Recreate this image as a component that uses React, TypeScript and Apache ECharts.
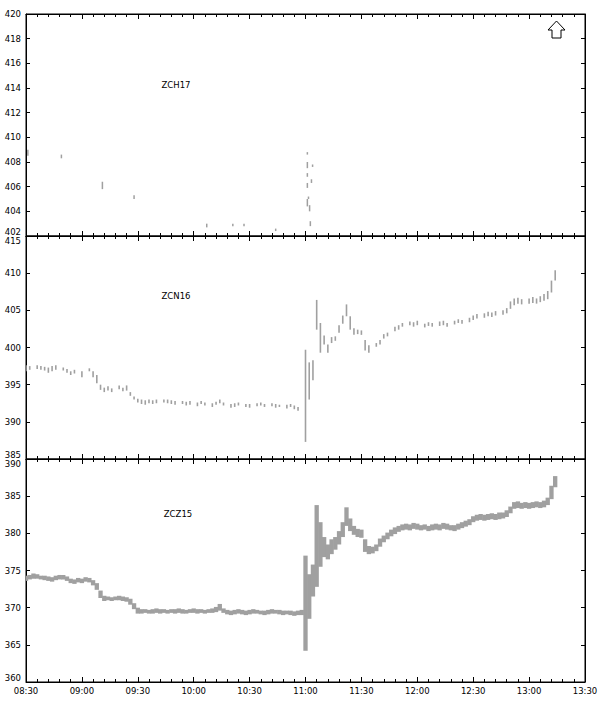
import React, { useEffect, useRef } from "react";
import * as echarts from "echarts";

// time axis in minutes since midnight
const X_MIN = 510; // 08:30
const X_MAX = 810; // 13:30
const X_INTERVAL = 30;

// ZCZ15 / ZCN16 bars: one bar every STEP minutes starting at START
const START = 510;
const STEP = 2;

const ZCZ15_LOW = [
  373.6, 373.8, 373.9, 373.9, 373.8, 373.7, 373.6, 373.5, 373.7, 373.8,
  373.8, 373.6, 373.3, 373.2, 373.4, 373.3, 373.5, 373.4, 373.0, 372.4,
  371.3, 370.9, 371.0, 370.9, 371.0, 371.0, 370.9, 370.8, 370.4, 369.8,
  369.2, 369.2, 369.3, 369.2, 369.2, 369.3, 369.2, 369.3, 369.2, 369.3,
  369.2, 369.3, 369.2, 369.2, 369.3, 369.3, 369.2, 369.3, 369.2, 369.3,
  369.3, 369.4, 369.6, 369.3, 369.1, 369.0, 369.1, 369.2, 369.1, 369.0,
  369.1, 369.2, 369.2, 369.1, 369.0, 369.1, 369.2, 369.2, 369.1, 369.0,
  369.1, 369.0, 368.9, 369.0, 369.0, 364.2, 368.5, 371.5, 372.8, 375.5,
  376.8, 376.5, 377.2, 377.8, 378.5, 379.5, 381.0, 380.3, 379.8, 379.5,
  379.4, 377.5, 377.2, 377.3, 377.6, 378.2, 378.8, 379.2, 379.6, 379.9,
  380.2, 380.4, 380.5, 380.4, 380.6, 380.5, 380.4, 380.5, 380.3, 380.4,
  380.5, 380.4, 380.6, 380.5, 380.4, 380.3, 380.5, 380.7, 380.9, 381.1,
  381.5, 381.7, 381.8, 381.7, 381.8, 381.9, 381.8, 381.9, 382.0, 382.2,
  382.7, 383.3, 383.4, 383.3, 383.4, 383.3, 383.4, 383.5, 383.4, 383.5,
  383.8, 384.6, 386.2,
];
const ZCZ15_HIGH = [
  374.3, 374.4, 374.6, 374.5, 374.3, 374.3, 374.2, 374.1, 374.3, 374.4,
  374.4, 374.2, 373.9, 373.8, 374.0, 373.9, 374.1, 374.0, 373.7, 373.3,
  372.3, 371.6, 371.5, 371.4, 371.5, 371.6, 371.5, 371.4, 371.2, 370.6,
  370.0, 369.8, 369.8, 369.7, 369.8, 369.9, 369.8, 369.8, 369.7, 369.8,
  369.8, 369.9, 369.8, 369.7, 369.8, 369.9, 369.8, 369.8, 369.7, 369.8,
  369.9, 370.1, 370.5, 369.9, 369.7, 369.6, 369.7, 369.8, 369.7, 369.6,
  369.7, 369.8, 369.7, 369.6, 369.6, 369.7, 369.8, 369.7, 369.7, 369.6,
  369.6, 369.6, 369.5, 369.6, 369.7, 377.0, 374.5, 375.8, 383.8, 381.5,
  379.5, 378.5, 379.2, 379.5, 380.3, 381.5, 383.5, 382.0, 381.0, 380.6,
  380.5, 379.2, 378.3, 378.2, 378.5, 379.3, 379.7, 380.1, 380.5, 380.8,
  381.0, 381.2, 381.3, 381.2, 381.4, 381.3, 381.1, 381.2, 381.0, 381.2,
  381.3, 381.2, 381.4, 381.3, 381.1, 381.1, 381.3, 381.5, 381.7, 381.9,
  382.3, 382.5, 382.6, 382.5, 382.6, 382.7, 382.6, 382.8, 382.8, 383.1,
  383.6, 384.2, 384.3, 384.1, 384.2, 384.1, 384.2, 384.3, 384.2, 384.4,
  384.8, 386.4, 387.7,
];

const ZCN16_LOW = [
  396.8, 397.0, null, 397.1, 397.0, 396.9, 396.6, 396.8, 397.0, null,
  396.9, 396.6, 396.3, 396.5, null, 396.0, null, 396.8, 396.0, 395.2,
  394.3, 394.0, 394.2, 394.0, null, 394.4, 394.1, 394.2, 393.5, 393.0,
  392.6, 392.4, 392.3, 392.5, 392.4, 392.5, null, 392.6, 392.5, 392.4,
  392.3, null, 392.4, 392.2, 392.3, null, 392.1, 392.4, 392.2, null,
  392.0, 392.3, 392.5, 392.2, null, 391.9, 392.0, 392.2, null, 392.0,
  391.9, null, 392.1, 392.2, 392.0, null, 392.1, 391.9, 392.0, null,
  391.8, 392.0, 391.7, 391.5, null, 387.3, 393.0, 395.6, 402.4, 399.3,
  400.4, 399.3, 400.6, 400.9, 402.0, 403.2, 404.2, 402.4, 401.7, 401.8,
  401.7, 399.6, 399.3, null, 400.1, 400.4, 401.2, 401.5, null, 402.2,
  402.4, 402.8, null, 403.0, 402.8, 403.0, null, 402.7, 402.9, 402.8,
  null, 402.9, 403.0, 402.8, null, 403.1, 403.3, 403.2, null, 403.4,
  403.7, 403.9, null, 404.0, 404.2, 404.1, 404.3, null, 404.4, 404.6,
  405.2, 405.7, 405.9, 405.8, null, 405.9, 406.0, 405.9, 406.1, 406.3,
  406.5, 407.4, 409.0,
];
const ZCN16_HIGH = [
  397.6, 397.5, null, 397.6, 397.5, 397.4, 397.3, 397.5, 397.6, null,
  397.3, 397.1, 396.8, 397.0, null, 396.8, null, 397.2, 396.8, 396.3,
  395.0, 394.6, 394.8, 394.5, null, 394.9, 394.6, 394.9, 394.0, 393.4,
  393.1, 393.0, 392.9, 393.0, 392.9, 393.0, null, 393.0, 393.0, 392.9,
  392.8, null, 392.8, 392.7, 392.8, null, 392.6, 392.8, 392.6, null,
  392.5, 392.7, 393.0, 392.6, null, 392.4, 392.5, 392.6, null, 392.4,
  392.4, null, 392.5, 392.6, 392.4, null, 392.5, 392.4, 392.3, null,
  392.3, 392.4, 392.2, 392.0, null, 399.7, 398.0, 398.3, 406.4, 403.3,
  401.6, 400.4, 401.4, 401.5, 403.0, 404.3, 405.8, 404.2, 402.6, 402.4,
  402.3, 401.0, 400.3, null, 400.6, 401.0, 401.8, 402.0, null, 402.8,
  403.0, 403.3, null, 403.5, 403.4, 403.6, null, 403.2, 403.4, 403.3,
  null, 403.5, 403.6, 403.3, null, 403.6, 403.8, 403.7, null, 404.0,
  404.3, 404.5, null, 404.6, 404.8, 404.7, 404.9, null, 405.0, 405.3,
  406.2, 406.6, 406.7, 406.5, null, 406.6, 406.8, 406.6, 406.9, 407.2,
  407.6, 409.0, 410.4,
];

// ZCH17: sparse trades
const ZCH17_TIME = [511, 529, 551, 568, 607, 621, 627, 644, 661, 661, 661, 661, 661, 661.6, 662.2, 662.6, 663.2, 663.8];
const ZCH17_LOW = [408.5, 408.3, 405.8, 405.0, 402.7, 402.8, 402.8, 402.4, 408.6, 407.5, 406.8, 405.9, 404.4, 405.0, 404.0, 402.8, 406.3, 407.6];
const ZCH17_HIGH = [409.0, 408.6, 406.4, 405.3, 403.0, 403.0, 403.0, 402.6, 408.8, 408.0, 407.1, 406.3, 405.0, 405.2, 404.5, 403.2, 406.6, 407.8];

const PANEL_NAMES = ["ZCH17", "ZCN16", "ZCZ15"];
const Y_MIN = [402, 385, 360];
const Y_MAX = [420, 415, 390];
const Y_INTERVAL = [2, 5, 5];

const BAR_COLOR = "#a0a0a0";
const FONT = "DejaVu Sans";

function fmtTime(v: number): string {
  const h = Math.floor(v / 60);
  const m = Math.round(v - h * 60);
  return (h < 10 ? "0" : "") + h + ":" + (m < 10 ? "0" : "") + m;
}

function buildBars(low: (number | null)[], high: (number | null)[]) {
  const out: number[][] = [];
  for (let i = 0; i < low.length; i++) {
    const lo = low[i];
    const hi = high[i];
    if (lo == null || hi == null) continue;
    out.push([START + i * STEP, lo, hi]);
  }
  return out;
}

export default function App() {
  const ref = useRef<HTMLDivElement>(null);
  useEffect(() => {
    if (!ref.current) return;
    const chart = echarts.init(ref.current, undefined, { renderer: "svg" });

    const grids = [
      { left: 26, right: 16, top: 14, height: 222 },
      { left: 26, right: 16, top: 236, height: 223 },
      { left: 26, right: 16, top: 459, height: 223 },
    ].map((g) => ({ ...g, show: true, borderColor: "#000", borderWidth: 1, containLabel: false }));

    const tickStyle = { color: "#000", width: 1 };
    const xAxes: any[] = [];
    const yAxes: any[] = [];
    for (let i = 0; i < 3; i++) {
      ["bottom", "top"].forEach((pos) => {
        xAxes.push({
          gridIndex: i,
          type: "value",
          position: pos,
          min: X_MIN,
          max: X_MAX,
          interval: X_INTERVAL,
          axisLine: { show: true, onZero: false, lineStyle: tickStyle },
          axisTick: { show: true, inside: true, length: 5, lineStyle: tickStyle },
          minorTick: { show: true, splitNumber: 5, length: 3, lineStyle: tickStyle },
          splitLine: { show: false },
          minorSplitLine: { show: false },
          axisLabel: {
            show: i === 2 && pos === "bottom",
            formatter: (v: number) => fmtTime(v),
            fontFamily: FONT,
            fontSize: 8.5,
            color: "#000",
            margin: 4,
          },
        });
      });
      ["left", "right"].forEach((pos) => {
        yAxes.push({
          gridIndex: i,
          type: "value",
          position: pos,
          min: Y_MIN[i],
          max: Y_MAX[i],
          interval: Y_INTERVAL[i],
          axisLine: { show: true, onZero: false, lineStyle: tickStyle },
          axisTick: { show: true, inside: true, length: 4, lineStyle: tickStyle },
          splitLine: { show: false },
          axisLabel: {
            show: pos === "left",
            fontFamily: FONT,
            fontSize: 8.5,
            color: "#000",
            margin: 5,
            verticalAlignMinLabel: "bottom",
            verticalAlignMaxLabel: i === 0 ? "middle" : "top",
          },
        });
      });
    }

    const makeRender = (widthMode: "band" | number) => (params: any, api: any) => {
      const x = api.value(0);
      const lo = api.value(1);
      const hi = api.value(2);
      const pHi = api.coord([x, hi]);
      const pLo = api.coord([x, lo]);
      const w = widthMode === "band" ? api.size([STEP, 0])[0] + 0.6 : widthMode;
      return {
        type: "rect",
        shape: { x: pHi[0] - w / 2, y: pHi[1], width: w, height: Math.max(pLo[1] - pHi[1], 1) },
        style: { fill: BAR_COLOR },
      };
    };

    const topData = ZCH17_TIME.map((t, i) => [t, ZCH17_LOW[i], ZCH17_HIGH[i]]);

    const series: any[] = [
      {
        type: "custom",
        name: PANEL_NAMES[0],
        xAxisIndex: 0,
        yAxisIndex: 0,
        renderItem: makeRender(1.5),
        encode: { x: 0, y: [1, 2] },
        data: topData,
        clip: true,
      },
      {
        type: "custom",
        name: PANEL_NAMES[1],
        xAxisIndex: 2,
        yAxisIndex: 2,
        renderItem: makeRender(1.6),
        encode: { x: 0, y: [1, 2] },
        data: buildBars(ZCN16_LOW, ZCN16_HIGH),
        clip: true,
      },
      {
        type: "custom",
        name: PANEL_NAMES[2],
        xAxisIndex: 4,
        yAxisIndex: 4,
        renderItem: makeRender("band"),
        encode: { x: 0, y: [1, 2] },
        data: buildBars(ZCZ15_LOW, ZCZ15_HIGH),
        clip: true,
      },
    ];

    const titlePos = [
      [176, 85],
      [176, 296],
      [178, 514],
    ];

    const graphic: any[] = PANEL_NAMES.map((name, i) => ({
      type: "text",
      x: titlePos[i][0],
      y: titlePos[i][1],
      style: {
        text: name,
        fill: "#000",
        font: `8.5px ${FONT}`,
        textAlign: "center",
        textVerticalAlign: "middle",
      },
      z: 10,
    }));
    graphic.push({
      type: "polygon",
      shape: {
        points: [
          [556.5, 21],
          [565, 30],
          [561, 30],
          [561, 38],
          [552, 38],
          [552, 30],
          [548, 30],
        ],
      },
      style: { fill: "#fff", stroke: "#000", lineWidth: 1 },
      z: 10,
    });

    chart.setOption({
      animation: false,
      backgroundColor: "#fff",
      grid: grids,
      xAxis: xAxes,
      yAxis: yAxes,
      series,
      graphic,
    });
    return () => chart.dispose();
  }, []);

  return (
    <div
      ref={ref}
      style={{ position: "absolute", left: 0, top: 0, width: 601, height: 704 }}
    />
  );
}
